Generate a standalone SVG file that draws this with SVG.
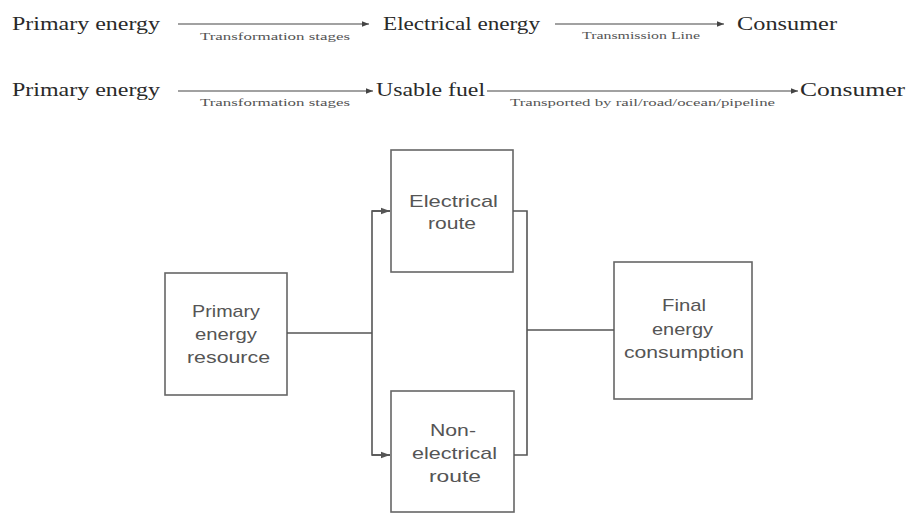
<svg xmlns="http://www.w3.org/2000/svg" width="913" height="514" viewBox="0 0 913 514">
<defs>
<marker id="ah" viewBox="0 0 10 10" refX="10" refY="5" markerWidth="7" markerHeight="7" markerUnits="userSpaceOnUse" orient="auto"><path d="M0,1 L10,5 L0,9 Z" fill="#444"/></marker>
<marker id="ab" viewBox="0 0 10 10" refX="10" refY="5" markerWidth="9" markerHeight="9" markerUnits="userSpaceOnUse" orient="auto"><path d="M0,1.5 L10,5 L0,8.5 Z" fill="#555"/></marker>
<style>
.big{font-family:"Liberation Serif","Times New Roman",serif;font-size:18px;fill:#2a2a2a}
.sm{font-family:"Liberation Serif","Times New Roman",serif;font-size:10px;fill:#555}
.bx{fill:#fff;stroke:#666;stroke-width:1.6}
.bt{font-family:"Liberation Sans",Arial,sans-serif;font-size:17px;fill:#555}
.ln{fill:none;stroke:#444;stroke-width:1.2}
.cn{fill:none;stroke:#555;stroke-width:1.6}
</style>
</defs>
<g id="row1">
<text class="big" x="12" y="30" textLength="148" lengthAdjust="spacingAndGlyphs">Primary energy</text>
<text class="big" x="383" y="30" textLength="157" lengthAdjust="spacingAndGlyphs">Electrical energy</text>
<text class="big" x="737" y="30" textLength="100" lengthAdjust="spacingAndGlyphs">Consumer</text>
<text class="sm" x="200" y="40" textLength="150" lengthAdjust="spacingAndGlyphs">Transformation stages</text>
<text class="sm" x="582" y="39" textLength="118" lengthAdjust="spacingAndGlyphs">Transmission Line</text>
</g>
<g id="row2">
<text class="big" x="12" y="96" textLength="148" lengthAdjust="spacingAndGlyphs">Primary energy</text>
<text class="big" x="376" y="96" textLength="109" lengthAdjust="spacingAndGlyphs">Usable fuel</text>
<text class="big" x="800" y="96" textLength="105" lengthAdjust="spacingAndGlyphs">Consumer</text>
<text class="sm" x="200" y="106" textLength="150" lengthAdjust="spacingAndGlyphs">Transformation stages</text>
<text class="sm" x="510" y="106" textLength="265" lengthAdjust="spacingAndGlyphs">Transported by rail/road/ocean/pipeline</text>
</g>
<g id="top-arrows">
<line class="ln" x1="178" y1="24" x2="369" y2="24" marker-end="url(#ah)"/>
<line class="ln" x1="555" y1="24" x2="724" y2="24" marker-end="url(#ah)"/>
<line class="ln" x1="178" y1="91" x2="373" y2="91" marker-end="url(#ah)"/>
<line class="ln" x1="487" y1="91" x2="798" y2="91" marker-end="url(#ah)"/>
</g>
<g id="primary">
<rect class="bx" x="165" y="273" width="122" height="122"/>
<text class="bt" x="192" y="317" textLength="68" lengthAdjust="spacingAndGlyphs">Primary</text>
<text class="bt" x="195" y="340" textLength="62" lengthAdjust="spacingAndGlyphs">energy</text>
<text class="bt" x="187" y="363" textLength="83" lengthAdjust="spacingAndGlyphs">resource</text>
</g>
<g id="electrical">
<rect class="bx" x="391" y="150" width="122" height="122"/>
<text class="bt" x="409" y="207" textLength="89" lengthAdjust="spacingAndGlyphs">Electrical</text>
<text class="bt" x="428" y="229" textLength="48" lengthAdjust="spacingAndGlyphs">route</text>
</g>
<g id="nonelectrical">
<rect class="bx" x="391" y="391" width="123" height="121"/>
<text class="bt" x="430" y="436" textLength="46" lengthAdjust="spacingAndGlyphs">Non-</text>
<text class="bt" x="412" y="459" textLength="85" lengthAdjust="spacingAndGlyphs">electrical</text>
<text class="bt" x="429" y="482" textLength="52" lengthAdjust="spacingAndGlyphs">route</text>
</g>
<g id="final">
<rect class="bx" x="614" y="262" width="138" height="137"/>
<text class="bt" x="662" y="311" textLength="44" lengthAdjust="spacingAndGlyphs">Final</text>
<text class="bt" x="652" y="335" textLength="61" lengthAdjust="spacingAndGlyphs">energy</text>
<text class="bt" x="624" y="358" textLength="120" lengthAdjust="spacingAndGlyphs">consumption</text>
</g>
<g id="connectors">
<line class="cn" x1="287" y1="333" x2="372" y2="333"/>
<polyline class="cn" points="390,211 372,211 372,455 390,455"/>
<line class="cn" x1="372" y1="211" x2="390" y2="211" marker-end="url(#ab)"/>
<line class="cn" x1="372" y1="455" x2="390" y2="455" marker-end="url(#ab)"/>
<polyline class="cn" points="513,211 527,211 527,455 514,455"/>
<line class="cn" x1="527" y1="330" x2="614" y2="330"/>
</g>
</svg>
